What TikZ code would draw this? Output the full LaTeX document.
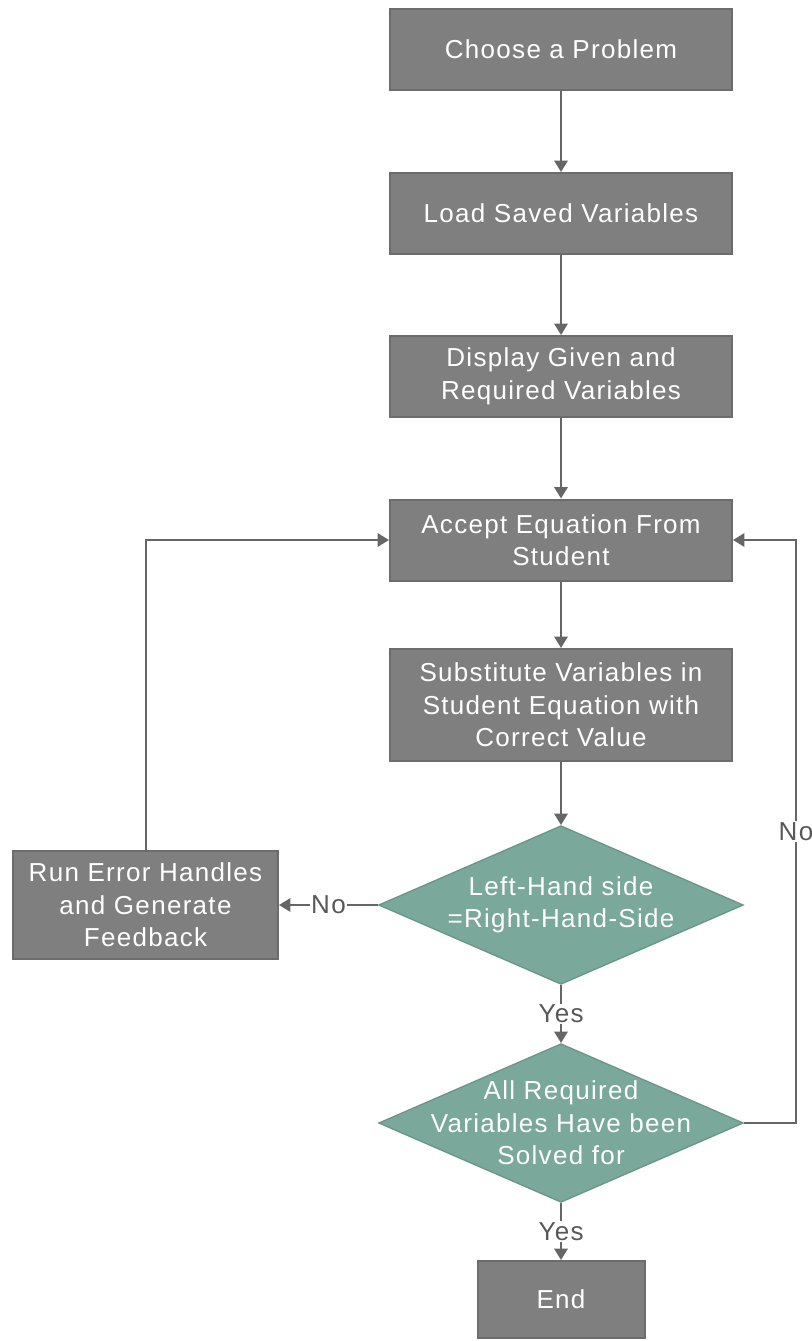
\documentclass[tikz,border=0pt]{standalone}
\usepackage{fontspec}
\setmainfont{Liberation Sans}[LetterSpace=5]
\usepackage{tikz}
\usetikzlibrary{shapes.geometric,arrows.meta}
\definecolor{cBox}{RGB}{127,127,127}
\definecolor{cBoxEdge}{RGB}{108,108,108}
\definecolor{cDecide}{RGB}{122,168,154}
\definecolor{cDecideEdge}{RGB}{106,150,136}
\definecolor{cLine}{RGB}{102,102,102}
\definecolor{cLabel}{RGB}{89,89,89}

\begin{document}
\begin{tikzpicture}[x=0.75pt,y=-0.75pt,
  box/.style={draw=cBoxEdge,line width=1.5pt,fill=cBox,text=white,align=center,inner sep=0pt,
    minimum width=256.5pt,minimum height=60.75pt,font=\fontsize{19.5}{24.4}\selectfont},
  decide/.style={diamond,draw=cDecideEdge,line width=1pt,fill=cDecide,inner sep=0pt,
    minimum width=273.5pt,minimum height=119pt},
  dtext/.style={text=white,align=center,font=\fontsize{19.5}{24.4}\selectfont},
  flow/.style={draw=cLine,line width=1.5pt,-{Triangle[length=8.5pt,width=10pt]}},
  lbl/.style={fill=white,text=cLabel,inner sep=1pt,font=\fontsize{19.5}{22}\selectfont}]
\useasboundingbox (0,0) rectangle (812,1341);
\node[box] (choose) at (561,49.5) {Choose a Problem};
\node[box] (load) at (561,213.5) {Load Saved Variables};
\node[box] (display) at (561,376.5) {Display Given and\\Required Variables};
\node[box] (accept) at (561,540) {Accept Equation From\\Student};
\node[box,minimum height=84pt] (subst) at (561,705) {Substitute Variables in\\Student Equation with\\Correct Value};
\node[decide,label={[dtext]center:{Left-Hand side\\=Right-Hand-Side}}] (check) at (561,905) {};
\node[decide,label={[dtext]center:{All Required\\Variables Have been\\Solved for}}] (solved) at (561,1123) {};
\node[box,minimum width=198.75pt,minimum height=81pt] (error) at (145.5,905) {Run Error Handles\\and Generate\\Feedback};
\node[box,minimum width=125.25pt,minimum height=57.75pt] (finish) at (561,1299.5) {End};
\draw[flow] (choose) -- (load);
\draw[flow] (load) -- (display);
\draw[flow] (display) -- (accept);
\draw[flow] (accept) -- (subst);
\draw[flow] (subst) -- (check);
\draw[flow] (check) -- node[lbl]{Yes} (solved);
\draw[flow] (solved) -- node[lbl]{Yes} (finish);
\draw[flow] (check) -- node[lbl]{No} (error);
\draw[flow] (error) |- (accept);
\draw[flow] (solved.east) -- ++(52,0) |- node[lbl,pos=0.25]{No} (accept.east);
\end{tikzpicture}
\end{document}
